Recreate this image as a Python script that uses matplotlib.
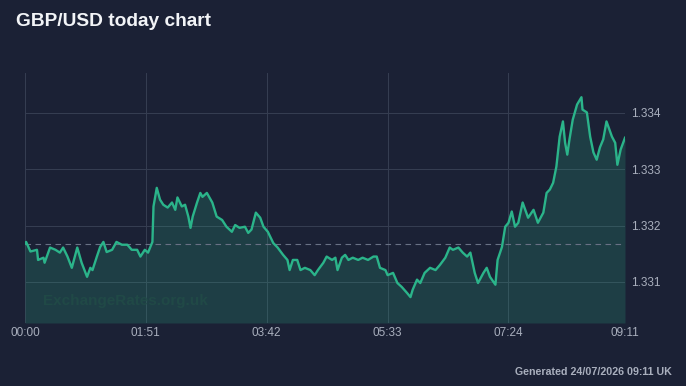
import matplotlib
matplotlib.use("Agg")
import matplotlib.pyplot as plt
import numpy as np

# minutes after midnight and GBP/USD rate
minutes = [
    0, 1, 5, 11, 12, 17, 18, 23, 28, 32, 35, 39, 43, 48, 52, 57, 60, 62, 66, 69,
    72, 75, 80, 84, 89, 94, 98, 103, 106, 110, 113, 117, 118, 121, 124, 127, 131, 135, 138, 140,
    144, 147, 150, 152, 154, 158, 161, 163, 167, 172, 176, 181, 185, 190, 193, 197, 202, 205, 208, 212,
    216, 219, 223, 228, 232, 237, 241, 243, 246, 250, 253, 257, 262, 266, 269, 274, 277, 282, 285, 287,
    291, 294, 297, 301, 306, 310, 315, 320, 323, 326, 331, 333, 338, 342, 346, 351, 354, 356, 360, 363,
    367, 372, 377, 381, 386, 390, 393, 398, 402, 406, 409, 413, 416, 421, 424, 427, 432, 434, 438, 441,
    444, 447, 450, 453, 457, 462, 467, 471, 476, 479, 482, 485, 488, 491, 494, 496, 498, 500, 503, 507,
    511, 512, 516, 519, 522, 525, 528, 531, 534, 539, 542, 544, 547, 551,
]
rates = [
    1.33168, 1.33171, 1.33154, 1.33157, 1.33139, 1.33143, 1.33134, 1.33161, 1.33157, 1.33152,
    1.33161, 1.33145, 1.33125, 1.33161, 1.33134, 1.33109, 1.33125, 1.33121, 1.33145, 1.33162,
    1.33171, 1.33153, 1.33157, 1.33171, 1.33166, 1.33166, 1.33157, 1.33157, 1.33145, 1.33157,
    1.33152, 1.33171, 1.33234, 1.33267, 1.33246, 1.33237, 1.33232, 1.33241, 1.33228, 1.33250,
    1.33234, 1.33237, 1.33216, 1.33196, 1.33216, 1.33241, 1.33258, 1.33251, 1.33258, 1.33241,
    1.33216, 1.33210, 1.33198, 1.33189, 1.33201, 1.33196, 1.33198, 1.33187, 1.33193, 1.33223,
    1.33214, 1.33198, 1.33189, 1.33169, 1.33161, 1.33148, 1.33139, 1.33121, 1.33139, 1.33139,
    1.33121, 1.33125, 1.33121, 1.33112, 1.33121, 1.33134, 1.33145, 1.33139, 1.33143, 1.33121,
    1.33143, 1.33148, 1.33139, 1.33143, 1.33139, 1.33143, 1.33139, 1.33145, 1.33145, 1.33125,
    1.33121, 1.33112, 1.33116, 1.33098, 1.33091, 1.33080, 1.33073, 1.33086, 1.33104, 1.33098,
    1.33116, 1.33125, 1.33121, 1.33130, 1.33143, 1.33161, 1.33157, 1.33161, 1.33152, 1.33145,
    1.33152, 1.33116, 1.33098, 1.33116, 1.33125, 1.33109, 1.33095, 1.33139, 1.33162, 1.33198,
    1.33205, 1.33225, 1.33198, 1.33205, 1.33241, 1.33214, 1.33228, 1.33205, 1.33223, 1.33258,
    1.33264, 1.33276, 1.33305, 1.33358, 1.33385, 1.33347, 1.33326, 1.33353, 1.33388, 1.33415,
    1.33428, 1.33406, 1.33401, 1.33358, 1.33330, 1.33317, 1.33339, 1.33353, 1.33385, 1.33358,
    1.33347, 1.33308, 1.33335, 1.33356,
]
open_rate = 1.33168

x_tick_minutes = [0, 111, 222, 333, 444, 551]
x_tick_labels = ["00:00", "01:51", "03:42", "05:33", "07:24", "09:11"]
y_ticks = [1.331, 1.332, 1.333, 1.334]
y_tick_labels = ["1.331", "1.332", "1.333", "1.334"]

BG = "#1b2135"
LINE = "#2bb48a"
GRID = "#363e52"
TEXT = "#a9afbd"

plt.rcParams["font.family"] = ["Liberation Sans", "DejaVu Sans"]

fig = plt.figure(figsize=(6.86, 3.86), dpi=100, facecolor=BG)
ax = fig.add_axes([25 / 686, 1 - 323 / 386, 600 / 686, 250 / 386], facecolor=BG)

y_min, y_max = 1.33027, 1.33471
ax.set_xlim(0, 551)
ax.set_ylim(y_min, y_max)

ax.fill_between(minutes, rates, y_min, color=LINE, alpha=0.2, lw=0, zorder=1)
ax.plot(minutes, rates, color=LINE, lw=1.7, zorder=3, solid_joinstyle="round")
ax.axhline(open_rate, color="#687084", lw=0.8, ls=(0, (5, 4)), zorder=2)

for xm in x_tick_minutes:
    ax.axvline(xm, color=GRID, lw=0.7, zorder=0.5)
for yv in y_ticks:
    ax.axhline(yv, color=GRID, lw=0.7, zorder=0.5)

for s in ax.spines.values():
    s.set_visible(False)

ax.set_xticks(x_tick_minutes)
ax.set_xticklabels(x_tick_labels)
ax.yaxis.tick_right()
ax.set_yticks(y_ticks)
ax.set_yticklabels(y_tick_labels)
ax.tick_params(axis="both", length=0, colors=TEXT, labelsize=8.5)
ax.tick_params(axis="x", pad=3)
ax.tick_params(axis="y", pad=4)

ax.text(0.03, 0.07, "ExchangeRates.org.uk", transform=ax.transAxes, fontsize=11,
        fontweight="bold", color="#214b47", alpha=0.85, zorder=2)

fig.text(16 / 686, 1 - 21 / 386, "GBP/USD today chart", fontsize=13.8, fontweight="bold",
         color="#f2f4f7", va="center", ha="left")
fig.text(672 / 686, 1 - 372 / 386, "Generated 24/07/2026 09:11 UK", fontsize=7.7,
         fontweight="bold", color="#a9afbd", va="center", ha="right")

fig.savefig("out.png", dpi=100, facecolor=BG)
